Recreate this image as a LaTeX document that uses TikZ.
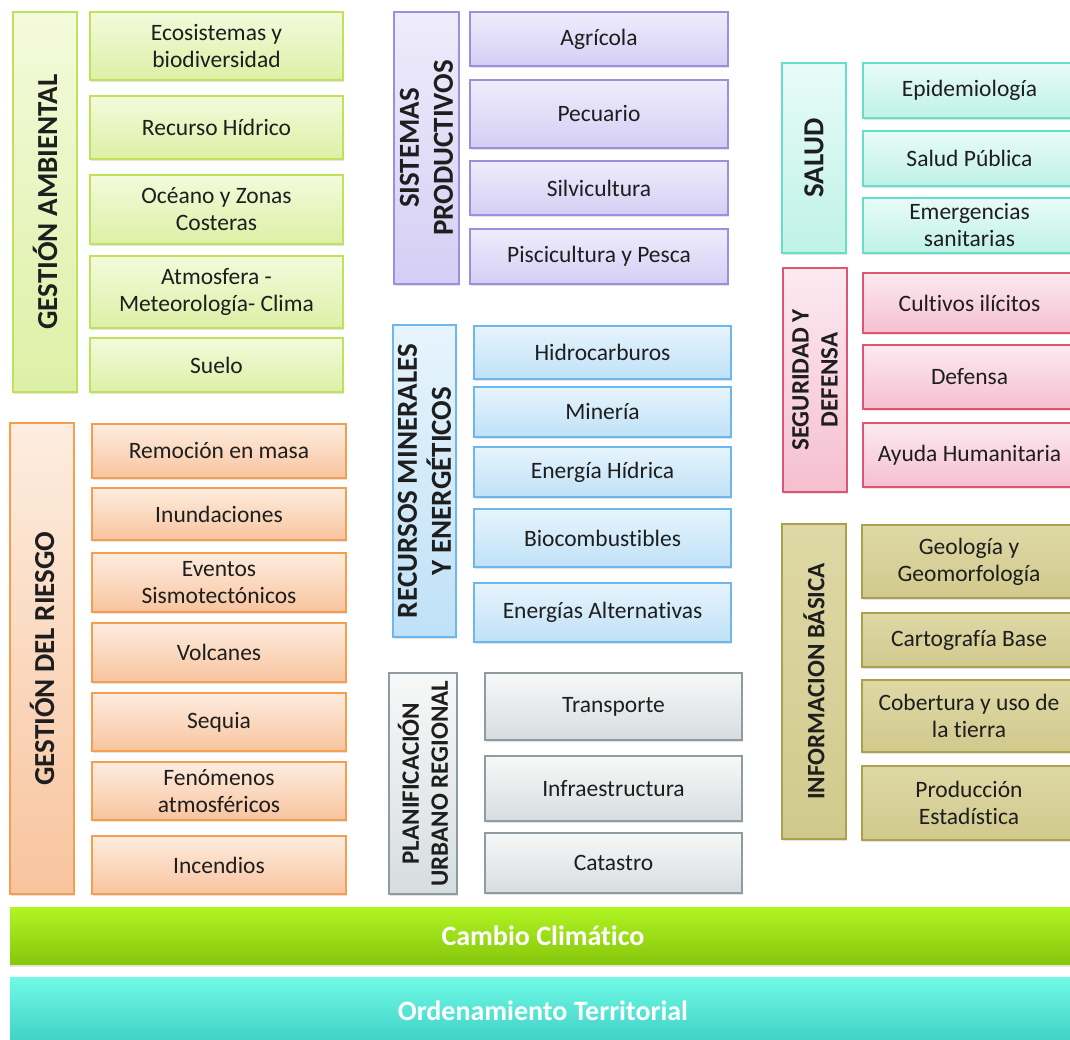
\documentclass[tikz,border=0pt]{standalone}
\usepackage{fontspec}
\setmainfont{Carlito}[Ligatures={NoCommon}]
\usetikzlibrary{shadows}
\definecolor{txt}{HTML}{1E1E1E}
\definecolor{gB}{HTML}{C0E15A}\definecolor{gT}{HTML}{F4FADC}\definecolor{gD}{HTML}{DDF0A6}
\definecolor{pB}{HTML}{9D8FE0}\definecolor{pT}{HTML}{EFECFB}\definecolor{pD}{HTML}{D5CEF5}
\definecolor{cB}{HTML}{66DFC9}\definecolor{cT}{HTML}{E8FBF7}\definecolor{cD}{HTML}{BFF2E7}
\definecolor{rB}{HTML}{E05573}\definecolor{rT}{HTML}{FCEAF0}\definecolor{rD}{HTML}{F5BFD0}
\definecolor{oB}{HTML}{F59E4E}\definecolor{oT}{HTML}{FDEDE0}\definecolor{oD}{HTML}{F8C49E}
\definecolor{bB}{HTML}{6CB8EC}\definecolor{bT}{HTML}{E7F4FD}\definecolor{bD}{HTML}{BFE1F7}
\definecolor{yB}{HTML}{8E9BA0}\definecolor{yT}{HTML}{F7F8F8}\definecolor{yD}{HTML}{D7DDDF}
\definecolor{lB}{HTML}{ABA04C}\definecolor{lT}{HTML}{DED8A6}\definecolor{lD}{HTML}{D1C98C}
\definecolor{ccT}{HTML}{B2F523}\definecolor{ccD}{HTML}{86C60C}
\definecolor{otT}{HTML}{70FAE6}\definecolor{otD}{HTML}{3ECFC4}
\tikzset{
  base/.style={rectangle, inner sep=0pt, outer sep=0pt, line width=1.4pt, align=center,
    text=txt, drop shadow={opacity=0.22, shadow xshift=1.2pt, shadow yshift=-2pt}},
  child/.style={base, font=\fontsize{23.5}{27}\selectfont},
  head/.style={base, font=\bfseries\fontsize{29}{34}\selectfont},
  heads/.style={base, font=\bfseries\fontsize{25}{29}\selectfont},
  green/.style={draw=gB, top color=gT, bottom color=gD},
  purple/.style={draw=pB, top color=pT, bottom color=pD},
  cyan/.style={draw=cB, top color=cT, bottom color=cD},
  pink/.style={draw=rB, top color=rT, bottom color=rD},
  orange/.style={draw=oB, top color=oT, bottom color=oD},
  blue/.style={draw=bB, top color=bT, bottom color=bD},
  gray/.style={draw=yB, top color=yT, bottom color=yD},
  olive/.style={draw=lB, top color=lT, bottom color=lD},
  bar/.style={rectangle, inner sep=0pt, outer sep=0pt, text=white,
    font=\bfseries\fontsize{28}{32}\selectfont},
}
\newcommand\mybox[7]{%
  \pgfmathsetmacro\bw{#5-#3}\pgfmathsetmacro\bh{#6-#4}%
  \node[#2, minimum width=\bw pt, minimum height=\bh pt, anchor=north west] (#1) at (#3,#4) {#7};}
\newcommand\myhead[7]{%
  \pgfmathsetmacro\bw{#6-#4}\pgfmathsetmacro\bh{#5-#3}%
  \pgfmathsetmacro\cx{(#3+#5)/2}\pgfmathsetmacro\cy{(#4+#6)/2}%
  \node[#2, rotate=90, minimum width=\bw pt, minimum height=\bh pt] (#1) at (\cx,\cy) {#7};}
\begin{document}
\begin{tikzpicture}[x=1pt, y=-1pt]
\useasboundingbox[fill=white] (0,0) rectangle (1070,1040);
% Gestion ambiental
\myhead{ga}{head,green}{13}{12}{77}{392}{GESTIÓN AMBIENTAL}
\mybox{ga1}{child,green}{90}{12}{343}{80}{Ecosistemas y\\biodiversidad}
\mybox{ga2}{child,green}{90}{96}{343}{159}{Recurso Hídrico}
\mybox{ga3}{child,green}{90}{175}{343}{244}{Océano y Zonas\\Costeras}
\mybox{ga4}{child,green}{90}{256}{343}{328}{Atmosfera -\\Meteorología- Clima}
\mybox{ga5}{child,green}{90}{338}{343}{392}{Suelo}
% Gestion del riesgo
\myhead{gr}{head,orange}{10}{423}{74}{894}{GESTIÓN DEL RIESGO}
\mybox{gr1}{child,orange}{92}{424}{346}{478}{Remoción en masa}
\mybox{gr2}{child,orange}{92}{488}{346}{540}{Inundaciones}
\mybox{gr3}{child,orange}{92}{553}{346}{612}{Eventos\\Sismotectónicos}
\mybox{gr4}{child,orange}{92}{623}{346}{682}{Volcanes}
\mybox{gr5}{child,orange}{92}{693}{346}{751}{Sequia}
\mybox{gr6}{child,orange}{92}{762}{346}{820}{Fenómenos\\atmosféricos}
\mybox{gr7}{child,orange}{92}{836}{346}{894}{Incendios}
% Sistemas productivos
\myhead{sp}{head,purple}{394}{12}{459}{284}{SISTEMAS\\PRODUCTIVOS}
\mybox{sp1}{child,purple}{470}{12}{728}{66}{Agrícola}
\mybox{sp2}{child,purple}{470}{80}{728}{148}{Pecuario}
\mybox{sp3}{child,purple}{470}{161}{728}{215}{Silvicultura}
\mybox{sp4}{child,purple}{470}{229}{728}{284}{Piscicultura y Pesca}
% Recursos minerales
\myhead{rm}{head,blue}{393}{325}{456}{637}{RECURSOS MINERALES\\Y ENERGÉTICOS}
\mybox{rm1}{child,blue}{474}{326}{731}{379}{Hidrocarburos}
\mybox{rm2}{child,blue}{474}{387}{731}{437}{Minería}
\mybox{rm3}{child,blue}{474}{447}{731}{497}{Energía Hídrica}
\mybox{rm4}{child,blue}{474}{509}{731}{567}{Biocombustibles}
\mybox{rm5}{child,blue}{474}{583}{731}{642}{Energías Alternativas}
% Planificacion
\myhead{pu}{heads,gray}{389}{673}{457}{894}{PLANIFICACIÓN\\URBANO REGIONAL}
\mybox{pu1}{child,gray}{485}{673}{742}{740}{Transporte}
\mybox{pu2}{child,gray}{485}{756}{742}{821}{Infraestructura}
\mybox{pu3}{child,gray}{485}{833}{742}{893}{Catastro}
% Salud
\myhead{sa}{head,cyan}{782}{63}{846}{253}{SALUD}
\mybox{sa1}{child,cyan}{863}{63}{1076}{118}{Epidemiología}
\mybox{sa2}{child,cyan}{863}{131}{1076}{186}{Salud Pública}
\mybox{sa3}{child,cyan}{863}{198}{1076}{253}{Emergencias\\sanitarias}
% Seguridad
\myhead{sd}{heads,pink}{783}{268}{847}{492}{SEGURIDAD Y\\DEFENSA}
\mybox{sd1}{child,pink}{863}{273}{1076}{333}{Cultivos ilícitos}
\mybox{sd2}{child,pink}{863}{345}{1076}{409}{Defensa}
\mybox{sd3}{child,pink}{863}{423}{1076}{487}{Ayuda Humanitaria}
% Informacion basica
\myhead{ib}{heads,olive}{782}{524}{846}{839}{INFORMACION BÁSICA}
\mybox{ib1}{child,olive}{862}{525}{1076}{598}{Geología y\\Geomorfología}
\mybox{ib2}{child,olive}{862}{613}{1076}{667}{Cartografía Base}
\mybox{ib3}{child,olive}{862}{680}{1076}{752}{Cobertura y uso de\\la tierra}
\mybox{ib4}{child,olive}{862}{766}{1076}{840}{Producción\\Estadística}
% Bars
\mybox{cc}{bar, top color=ccT, bottom color=ccD, drop shadow={opacity=0.2, shadow xshift=0pt, shadow yshift=-3pt}}{10}{907}{1076}{964}{Cambio Climático}
\mybox{ot}{bar, top color=otT, bottom color=otD}{10}{977}{1076}{1044}{Ordenamiento Territorial}
\end{tikzpicture}
\end{document}
